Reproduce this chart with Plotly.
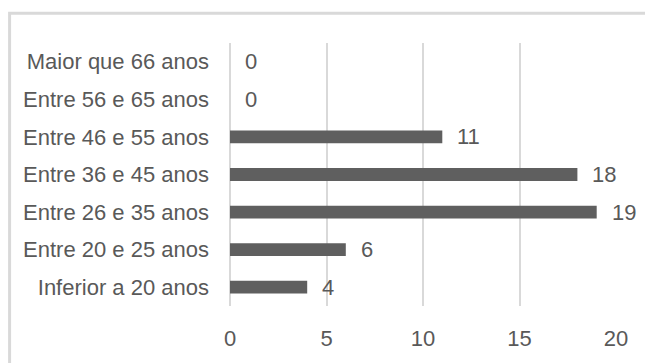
import plotly.graph_objects as go

# faixas etárias (de baixo para cima) e número de respostas
faixas = ['Inferior a 20 anos', 'Entre 20 e 25 anos', 'Entre 26 e 35 anos',
          'Entre 36 e 45 anos', 'Entre 46 e 55 anos', 'Entre 56 e 65 anos',
          'Maior que 66 anos']
valores = [4, 6, 19, 18, 11, 0, 0]
ticks_x = [0, 5, 10, 15, 20]

cinza = '#595959'
barra = '#5f5f5f'
grade = '#d9d9d9'
fonte = 'Liberation Sans'

fig = go.Figure(go.Bar(
    x=valores, y=faixas, orientation='h',
    marker_color=barra, marker_line_width=0,
))

for f, v in zip(faixas, valores):
    fig.add_annotation(x=v, y=f, text=str(v), showarrow=False,
                       xanchor='left', xshift=13,
                       font=dict(size=22, color=cinza, family=fonte))

# moldura cinza (só topo e lado esquerdo visíveis)
fig.add_shape(type='path', xref='paper', yref='paper',
              path='M -0.571 -0.25 L -0.571 1.113 L 1.2 1.113',
              line=dict(color=grade, width=3))

# a página tem 8px de margem no body: figura um pouco menor
fig.update_layout(
    width=645, height=355,
    margin=dict(l=222, r=37, t=35, b=55),
    paper_bgcolor='white', plot_bgcolor='white',
    bargap=0.66, showlegend=False,
    font=dict(family=fonte, size=22, color=cinza),
    xaxis=dict(range=[0, 20], tickvals=ticks_x, showgrid=True,
               gridcolor=grade, gridwidth=2, zeroline=True,
               zerolinecolor=grade, zerolinewidth=2,
               showline=False, ticklabelstandoff=17,
               tickfont=dict(size=22, color=cinza)),
    yaxis=dict(showgrid=False, zeroline=False, showline=False,
               ticklabelstandoff=20, tickfont=dict(size=22, color=cinza)),
)

fig.write_html('out.html')
